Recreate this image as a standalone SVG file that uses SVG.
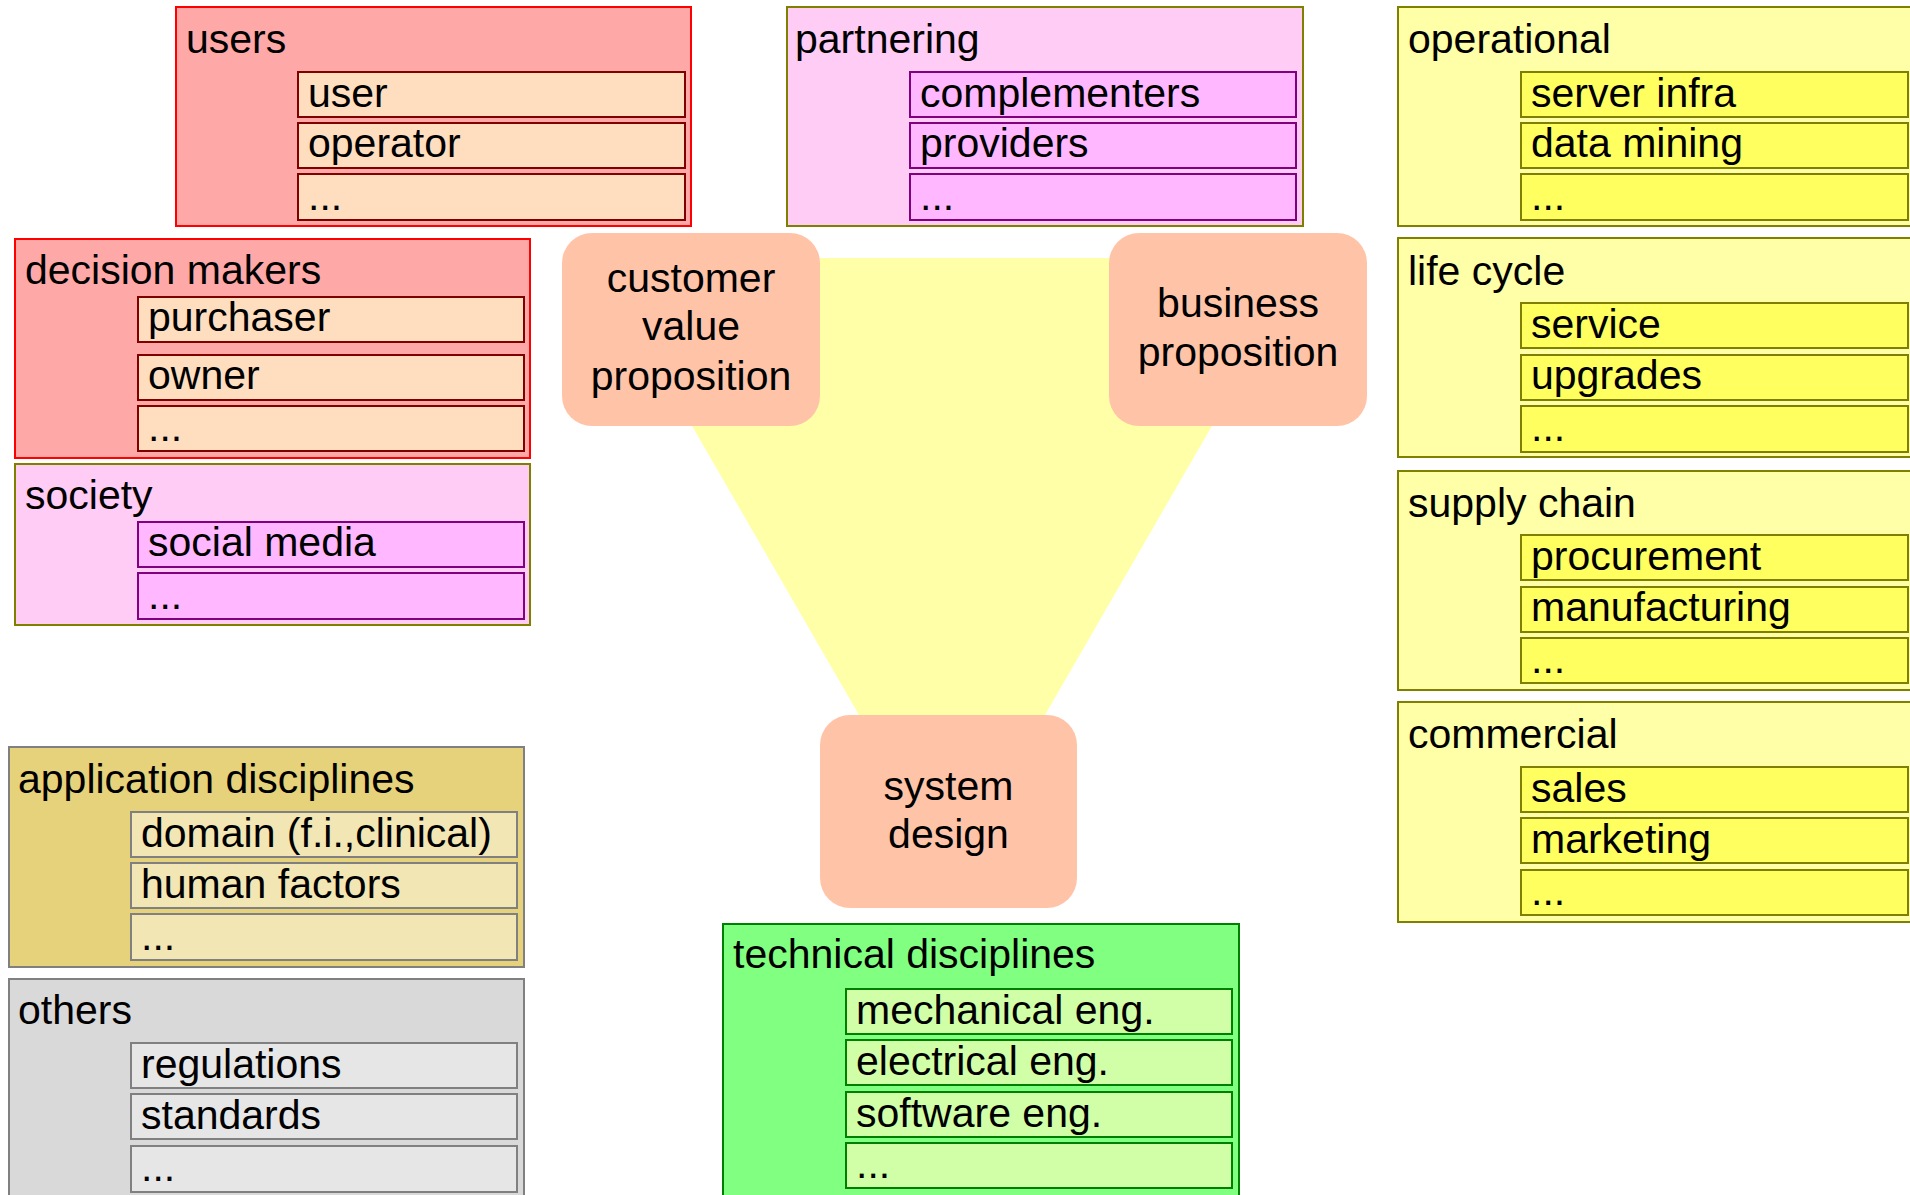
<svg xmlns="http://www.w3.org/2000/svg" width="1910" height="1195" viewBox="0 0 1910 1195">
<style>
text{font-family:"Liberation Sans",Arial,sans-serif;font-size:41px;fill:#000}
.c{text-anchor:middle}
.o{stroke-width:2}
.i{stroke-width:2}
.red{fill:#FFA8A8;stroke:#FF0000}
.redi{fill:#FFDEC0;stroke:#800000}
.pink{fill:#FFCCF5;stroke:#808000}
.pinki{fill:#FFB8FF;stroke:#800080}
.yel{fill:#FFFFA8;stroke:#808000}
.yeli{fill:#FFFF60;stroke:#808000}
.app{fill:#E6D27A;stroke:#808080}
.appi{fill:#F2E6B4;stroke:#808080}
.gry{fill:#D9D9D9;stroke:#808080}
.gryi{fill:#E6E6E6;stroke:#808080}
.grn{fill:#80FF80;stroke:#008000}
.grni{fill:#D0FFA8;stroke:#008000}
.core{fill:#FFC4A8}
</style>
<g id="connectors">
<polygon points="595,258 1309,258 952,876" fill="#FFFFA8"/>
</g>
<g id="users">
<rect class="o red" x="176" y="7" width="515" height="219"/>
<text x="186" y="53">users</text>
<rect class="i redi" x="298" y="72" width="387" height="45"/><text x="308" y="107">user</text>
<rect class="i redi" x="298" y="123" width="387" height="45"/><text x="308" y="157">operator</text>
<rect class="i redi" x="298" y="174" width="387" height="46"/><text x="308" y="210">...</text>
</g>
<g id="decision-makers">
<rect class="o red" x="15" y="239" width="515" height="219"/>
<text x="25" y="284">decision makers</text>
<rect class="i redi" x="138" y="297" width="386" height="45"/><text x="148" y="331">purchaser</text>
<rect class="i redi" x="138" y="355" width="386" height="45"/><text x="148" y="389">owner</text>
<rect class="i redi" x="138" y="406" width="386" height="45"/><text x="148" y="441">...</text>
</g>
<g id="society">
<rect class="o pink" x="15" y="464" width="515" height="161"/>
<text x="25" y="509">society</text>
<rect class="i pinki" x="138" y="522" width="386" height="45"/><text x="148" y="556">social media</text>
<rect class="i pinki" x="138" y="573" width="386" height="46"/><text x="148" y="609">...</text>
</g>
<g id="partnering">
<rect class="o pink" x="787" y="7" width="516" height="219"/>
<text x="795" y="53">partnering</text>
<rect class="i pinki" x="910" y="72" width="386" height="45"/><text x="920" y="107">complementers</text>
<rect class="i pinki" x="910" y="123" width="386" height="45"/><text x="920" y="157">providers</text>
<rect class="i pinki" x="910" y="174" width="386" height="46"/><text x="920" y="210">...</text>
</g>
<g id="operational">
<rect class="o yel" x="1398" y="7" width="520" height="219"/>
<text x="1408" y="53">operational</text>
<rect class="i yeli" x="1521" y="72" width="387" height="45"/><text x="1531" y="107">server infra</text>
<rect class="i yeli" x="1521" y="123" width="387" height="45"/><text x="1531" y="157">data mining</text>
<rect class="i yeli" x="1521" y="174" width="387" height="46"/><text x="1531" y="210">...</text>
</g>
<g id="life-cycle">
<rect class="o yel" x="1398" y="238" width="520" height="219"/>
<text x="1408" y="285">life cycle</text>
<rect class="i yeli" x="1521" y="303" width="387" height="45"/><text x="1531" y="338">service</text>
<rect class="i yeli" x="1521" y="355" width="387" height="45"/><text x="1531" y="389">upgrades</text>
<rect class="i yeli" x="1521" y="406" width="387" height="46"/><text x="1531" y="441">...</text>
</g>
<g id="supply-chain">
<rect class="o yel" x="1398" y="471" width="520" height="219"/>
<text x="1408" y="517">supply chain</text>
<rect class="i yeli" x="1521" y="535" width="387" height="45"/><text x="1531" y="570">procurement</text>
<rect class="i yeli" x="1521" y="587" width="387" height="45"/><text x="1531" y="621">manufacturing</text>
<rect class="i yeli" x="1521" y="638" width="387" height="45"/><text x="1531" y="673">...</text>
</g>
<g id="commercial">
<rect class="o yel" x="1398" y="702" width="520" height="220"/>
<text x="1408" y="748">commercial</text>
<rect class="i yeli" x="1521" y="767" width="387" height="45"/><text x="1531" y="802">sales</text>
<rect class="i yeli" x="1521" y="818" width="387" height="45"/><text x="1531" y="853">marketing</text>
<rect class="i yeli" x="1521" y="870" width="387" height="45"/><text x="1531" y="905">...</text>
</g>
<g id="application-disciplines">
<rect class="o app" x="9" y="747" width="515" height="220"/>
<text x="18" y="793">application disciplines</text>
<rect class="i appi" x="131" y="812" width="386" height="45"/><text x="141" y="847">domain (f.i.,clinical)</text>
<rect class="i appi" x="131" y="863" width="386" height="45"/><text x="141" y="898">human factors</text>
<rect class="i appi" x="131" y="914" width="386" height="46"/><text x="141" y="950">...</text>
</g>
<g id="others">
<rect class="o gry" x="9" y="979" width="515" height="230"/>
<text x="18" y="1024">others</text>
<rect class="i gryi" x="131" y="1043" width="386" height="45"/><text x="141" y="1078">regulations</text>
<rect class="i gryi" x="131" y="1094" width="386" height="45"/><text x="141" y="1129">standards</text>
<rect class="i gryi" x="131" y="1146" width="386" height="46"/><text x="141" y="1181">...</text>
</g>
<g id="technical-disciplines">
<rect class="o grn" x="723" y="924" width="516" height="290"/>
<text x="733" y="968">technical disciplines</text>
<rect class="i grni" x="846" y="989" width="386" height="45"/><text x="856" y="1024">mechanical eng.</text>
<rect class="i grni" x="846" y="1040" width="386" height="45"/><text x="856" y="1075">electrical eng.</text>
<rect class="i grni" x="846" y="1092" width="386" height="45"/><text x="856" y="1127">software eng.</text>
<rect class="i grni" x="846" y="1143" width="386" height="45"/><text x="856" y="1178">...</text>
</g>
<g id="customer-value-proposition">
<rect class="core" x="562" y="233" width="258" height="193" rx="30" ry="30"/>
<text class="c" x="691" y="292">customer</text>
<text class="c" x="691" y="340">value</text>
<text class="c" x="691" y="390">proposition</text>
</g>
<g id="business-proposition">
<rect class="core" x="1109" y="233" width="258" height="193" rx="30" ry="30"/>
<text class="c" x="1238" y="317">business</text>
<text class="c" x="1238" y="366">proposition</text>
</g>
<g id="system-design">
<rect class="core" x="820" y="715" width="257" height="193" rx="30" ry="30"/>
<text class="c" x="948.5" y="800">system</text>
<text class="c" x="948.5" y="848">design</text>
</g>
</svg>
